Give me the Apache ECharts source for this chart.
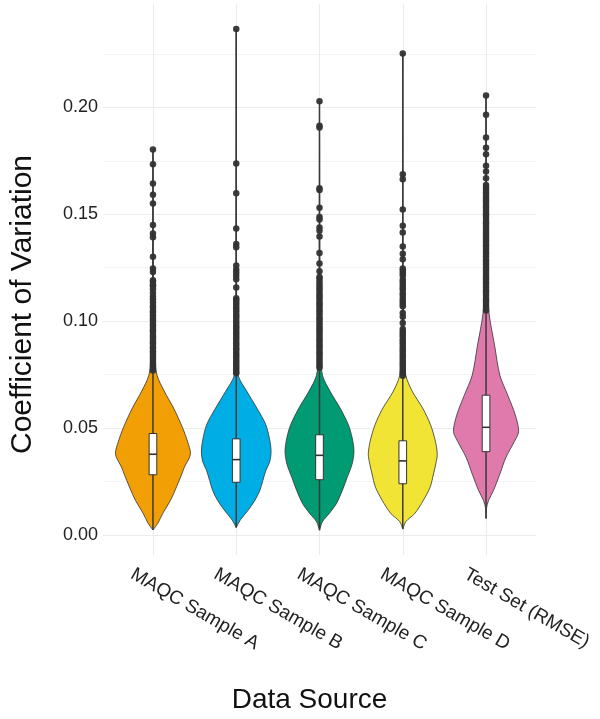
<!DOCTYPE html>
<html>
<head>
<meta charset="utf-8">
<script src="https://cdn.jsdelivr.net/npm/echarts@6/dist/echarts.min.js"></script>
<style>
html,body{margin:0;padding:0;background:#fff;}
#chart{width:600px;height:719px;}
</style>
</head>
<body>
<div id="chart"></div>
<script>
// ---------------- data ----------------
const categories = ['MAQC Sample A', 'MAQC Sample B', 'MAQC Sample C', 'MAQC Sample D', 'Test Set (RMSE)'];
const yTickLabels = ['0.00', '0.05', '0.10', '0.15', '0.20'];

// violin outlines: CV values (bottom -> top) and relative density at each
const cvA = [0.0024, 0.0055, 0.0101, 0.0163, 0.0226, 0.0286, 0.0318, 0.0378, 0.0439, 0.0502, 0.0594, 0.0670, 0.0747, 0.0850, 0.1000, 0.1300, 0.1803];
const densA = [0, 0.13, 0.26, 0.47, 0.63, 0.77, 0.84, 1.00, 0.92, 0.79, 0.55, 0.31, 0.11, 0.04, 0.02, 0.01, 0];
const cvB = [0.0035, 0.0071, 0.0117, 0.0163, 0.0209, 0.0255, 0.0301, 0.0347, 0.0393, 0.0439, 0.0516, 0.0594, 0.0670, 0.0747, 0.0850, 0.1000, 0.1300, 0.2366];
const densB = [0, 0.11, 0.32, 0.50, 0.63, 0.71, 0.79, 0.90, 0.93, 0.90, 0.79, 0.55, 0.29, 0.05, 0.03, 0.015, 0.008, 0];
const cvC = [0.0023, 0.0063, 0.0101, 0.0147, 0.0209, 0.0270, 0.0332, 0.0393, 0.0456, 0.0516, 0.0594, 0.0670, 0.0747, 0.0850, 0.1000, 0.1300, 0.2028];
const densC = [0, 0.08, 0.26, 0.45, 0.61, 0.74, 0.87, 0.92, 0.87, 0.77, 0.55, 0.29, 0.08, 0.03, 0.015, 0.008, 0];
const cvD = [0.0028, 0.0063, 0.0101, 0.0163, 0.0224, 0.0286, 0.0332, 0.0378, 0.0439, 0.0516, 0.0594, 0.0670, 0.0747, 0.0850, 0.1000, 0.1300, 0.2252];
const densD = [0, 0.08, 0.32, 0.55, 0.73, 0.82, 0.88, 0.92, 0.87, 0.74, 0.53, 0.26, 0.08, 0.03, 0.015, 0.008, 0];
const cvE = [0.0078, 0.0124, 0.0163, 0.0209, 0.0286, 0.0363, 0.0439, 0.0485, 0.0562, 0.0654, 0.0747, 0.0885, 0.1038, 0.1200, 0.1500, 0.2055];
const densE = [0, 0.01, 0.07, 0.20, 0.37, 0.53, 0.76, 0.87, 0.78, 0.58, 0.37, 0.23, 0.08, 0.03, 0.01, 0];

// box plot statistics
const boxQ1 = [0.0282, 0.0247, 0.0259, 0.0240, 0.0390];
const boxMedian = [0.0378, 0.0353, 0.0373, 0.0347, 0.0504];
const boxQ3 = [0.0475, 0.0450, 0.0469, 0.0441, 0.0654];

// outliers (points)
const outA = [0.1803, 0.1734, 0.1644, 0.1591, 0.1550, 0.1450, 0.1410, 0.1392, 0.1301, 0.1246, 0.1230, 0.1192, 0.1183, 0.1171, 0.1163, 0.1149, 0.1132, 0.1116, 0.1103, 0.1089, 0.1072, 0.1063, 0.1049, 0.1041, 0.1028, 0.1015, 0.1004, 0.0992, 0.0981, 0.0968, 0.0957, 0.0949, 0.0936, 0.0925, 0.0913, 0.0902, 0.0894, 0.0881, 0.0872, 0.0860, 0.0851, 0.0839, 0.0828, 0.0819, 0.0807, 0.0798, 0.0789, 0.0778, 0.0770];
const outB = [0.2366, 0.1737, 0.1598, 0.1433, 0.1361, 0.1346, 0.1261, 0.1242, 0.1228, 0.1212, 0.1196, 0.1158, 0.1107, 0.1098, 0.1086, 0.1077, 0.1065, 0.1053, 0.1044, 0.1031, 0.1022, 0.1010, 0.0998, 0.0987, 0.0975, 0.0966, 0.0954, 0.0942, 0.0931, 0.0920, 0.0909, 0.0897, 0.0886, 0.0874, 0.0865, 0.0853, 0.0842, 0.0831, 0.0819, 0.0808, 0.0797, 0.0786, 0.0775, 0.0764, 0.0757];
const outC = [0.2028, 0.1914, 0.1906, 0.1622, 0.1614, 0.1530, 0.1487, 0.1476, 0.1438, 0.1423, 0.1396, 0.1319, 0.1270, 0.1234, 0.1207, 0.1198, 0.1184, 0.1173, 0.1160, 0.1149, 0.1136, 0.1122, 0.1113, 0.1101, 0.1088, 0.1078, 0.1067, 0.1053, 0.1044, 0.1032, 0.1019, 0.1009, 0.0998, 0.0986, 0.0973, 0.0963, 0.0952, 0.0941, 0.0929, 0.0917, 0.0906, 0.0894, 0.0883, 0.0871, 0.0858, 0.0848, 0.0837, 0.0825, 0.0814, 0.0802, 0.0791, 0.0782];
const outD = [0.2252, 0.1687, 0.1664, 0.1522, 0.1446, 0.1415, 0.1349, 0.1315, 0.1290, 0.1246, 0.1236, 0.1224, 0.1213, 0.1194, 0.1183, 0.1170, 0.1158, 0.1147, 0.1131, 0.1119, 0.1104, 0.1092, 0.1080, 0.1070, 0.1038, 0.1021, 0.0992, 0.0963, 0.0951, 0.0940, 0.0928, 0.0915, 0.0904, 0.0893, 0.0881, 0.0869, 0.0858, 0.0846, 0.0834, 0.0823, 0.0811, 0.0800, 0.0789, 0.0777, 0.0766, 0.0755, 0.0745];
const outE = [0.2055, 0.1965, 0.1859, 0.1811, 0.1780, 0.1727, 0.1700, 0.1668, 0.1637, 0.1625, 0.1613, 0.1602, 0.1590, 0.1577, 0.1566, 0.1554, 0.1541, 0.1530, 0.1518, 0.1505, 0.1494, 0.1482, 0.1469, 0.1458, 0.1446, 0.1433, 0.1422, 0.1410, 0.1397, 0.1386, 0.1374, 0.1361, 0.1350, 0.1338, 0.1325, 0.1314, 0.1302, 0.1289, 0.1278, 0.1266, 0.1253, 0.1242, 0.1230, 0.1217, 0.1206, 0.1194, 0.1181, 0.1170, 0.1158, 0.1145, 0.1134, 0.1122, 0.1109, 0.1098, 0.1086, 0.1073, 0.1062, 0.1050];

// ---------------- styling / assembly ----------------
const palette = ['#F29F05', '#00AEE6', '#009B72', '#F2E434', '#E07AAD'];
const cvSets = [cvA, cvB, cvC, cvD, cvE];
const densSets = [densA, densB, densC, densD, densE];
const outSets = [outA, outB, outC, outD, outE];
const FONT = '"Liberation Sans", Arial, Helvetica, sans-serif';

function renderViolin(params, api) {
  const i = params.dataIndex;
  const xc = api.value(0);
  const unit = api.size([1, 0])[0];
  const half = 0.45 * unit;
  const cv = cvSets[i], dens = densSets[i];
  const left = [], right = [];
  for (let k = 0; k < cv.length; k++) {
    const p = api.coord([xc, cv[k]]);
    left.push([p[0] - dens[k] * half, p[1]]);
    right.push([p[0] + dens[k] * half, p[1]]);
  }
  const pts = left.concat(right.reverse());
  const bottom = api.coord([xc, cv[0]]);
  const top = api.coord([xc, cv[cv.length - 1]]);
  const bw = 0.092 * unit;
  const pq1 = api.coord([xc, boxQ1[i]]);
  const pq3 = api.coord([xc, boxQ3[i]]);
  const pm = api.coord([xc, boxMedian[i]]);
  return {
    type: 'group',
    children: [
      { type: 'polygon', shape: { points: pts, smooth: 0.3 },
        style: { fill: palette[i], stroke: '#333', lineWidth: 0.8 } },
      { type: 'line', shape: { x1: bottom[0], y1: bottom[1], x2: top[0], y2: top[1] },
        style: { stroke: '#3a3a3a', lineWidth: 1.5 } },
      { type: 'rect', shape: { x: pq3[0] - bw / 2, y: pq3[1], width: bw, height: pq1[1] - pq3[1] },
        style: { fill: '#ffffff', stroke: '#333', lineWidth: 1 } },
      { type: 'line', shape: { x1: pm[0] - bw / 2, y1: pm[1], x2: pm[0] + bw / 2, y2: pm[1] },
        style: { stroke: '#333', lineWidth: 1.6 } }
    ]
  };
}

const violinData = categories.map((c, i) => [i + 1, cvSets[i][0], cvSets[i][cvSets[i].length - 1]]);
const pointData = [];
outSets.forEach((arr, i) => arr.forEach(v => pointData.push([i + 1, v])));

const chart = echarts.init(document.getElementById('chart'), null, { renderer: 'canvas' });
chart.setOption({
  animation: false,
  backgroundColor: '#ffffff',
  textStyle: { fontFamily: FONT },
  grid: { left: 97, right: 64, top: 4, bottom: 157, containLabel: false },
  xAxis: {
    type: 'value',
    min: 0.4, max: 5.6,
    minInterval: 1, maxInterval: 1,
    axisLine: { show: false },
    axisTick: { show: false },
    splitLine: { show: true, showMinLine: false, showMaxLine: false, lineStyle: { color: '#ebebeb', width: 1 } },
    axisLabel: {
      showMinLabel: false, showMaxLabel: false,
      rotate: -30, margin: 30,
      fontSize: 19, color: '#222', fontFamily: FONT,
      padding: [0, 0, 0, -24],
      formatter: v => (Number.isInteger(v) && v >= 1 && v <= categories.length) ? categories[v - 1] : ''
    },
    name: 'Data Source',
    nameLocation: 'middle',
    nameGap: 131,
    nameTextStyle: { fontSize: 28, color: '#111', fontFamily: FONT, padding: [0, 20, 0, 0] }
  },
  yAxis: {
    type: 'value',
    min: -0.0093, max: 0.2483,
    minInterval: 0.05, maxInterval: 0.05,
    axisLine: { show: false },
    axisTick: { show: false },
    minorTick: { show: false, splitNumber: 2 },
    minorSplitLine: { show: true, lineStyle: { color: '#f4f4f4', width: 1 } },
    splitLine: { show: true, showMinLine: false, showMaxLine: false, lineStyle: { color: '#ebebeb', width: 1 } },
    axisLabel: {
      showMinLabel: false, showMaxLabel: false,
      margin: 5, fontSize: 18, color: '#222', fontFamily: FONT,
      formatter: v => {
        const idx = Math.round(v / 0.05);
        return (Math.abs(v - idx * 0.05) < 1e-9 && yTickLabels[idx] !== undefined) ? yTickLabels[idx] : '';
      }
    },
    name: 'Coefficient of Variation',
    nameLocation: 'middle',
    nameRotate: 90,
    nameGap: 65,
    nameTextStyle: { fontSize: 30, color: '#111', fontFamily: FONT, padding: [0, 50, 0, 0] }
  },
  series: [
    {
      type: 'custom',
      name: 'violins',
      renderItem: renderViolin,
      data: violinData,
      encode: { x: 0, y: [1, 2] },
      z: 2,
      silent: true
    },
    {
      type: 'scatter',
      name: 'outliers',
      data: pointData,
      symbol: 'circle',
      symbolSize: 6.5,
      itemStyle: { color: '#333333', opacity: 0.95 },
      z: 3,
      silent: true
    }
  ]
});
</script>
</body>
</html>
